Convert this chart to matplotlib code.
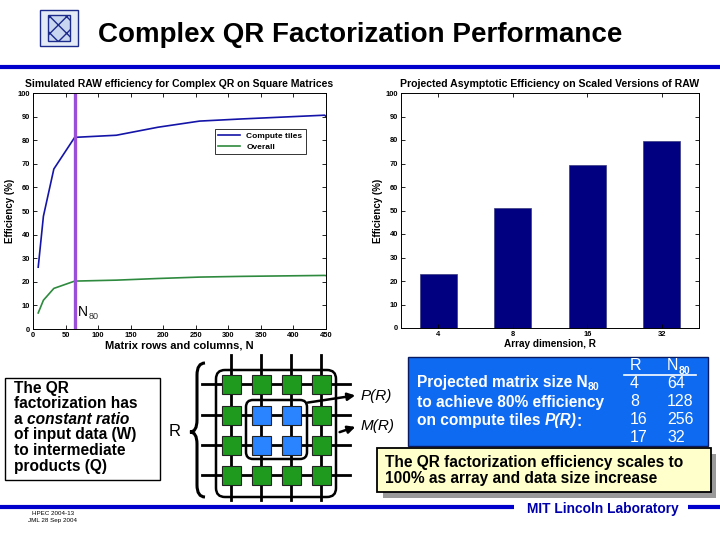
import matplotlib
matplotlib.use("Agg")
import matplotlib.pyplot as plt
from matplotlib.patches import Rectangle, FancyBboxPatch, PathPatch
from matplotlib.path import Path

plt.rcParams['font.family'] = ['Liberation Sans', 'DejaVu Sans']

# simulated efficiency vs matrix size
matrix_n = [8, 16, 32, 64, 128, 192, 256, 320, 384, 448, 450]
compute_tiles = [26.2, 47.8, 67.8, 81.2, 82.1, 85.5, 88.1, 89.0, 89.8, 90.6, 90.0]
overall = [6.8, 12.2, 17.2, 20.3, 20.7, 21.4, 22.0, 22.3, 22.5, 22.7, 22.6]
n80_line = 65

# projected efficiency vs array dimension
array_dims = ['4', '8', '16', '32']
proj_eff = [23.0, 51.2, 69.4, 79.6]

# N80 table
table_r = ['4', '8', '16', '17']
table_n80 = ['64', '128', '256', '32']

fig = plt.figure(figsize=(7.2, 5.4), dpi=100)
renderer = fig.canvas.get_renderer()

# overlay in pixel coordinates for slide decorations
ov = fig.add_axes([0, 0, 1, 1])
ov.set_xlim(0, 720)
ov.set_ylim(540, 0)
ov.axis('off')


def run_text(x, y, parts, **kw):
    # draw text pieces one after another on the same line
    for s, st in parts:
        t = ov.text(x, y, s, style=st, va='center', ha='left', **kw)
        x += t.get_window_extent(renderer).width
    return x


# header
ov.add_patch(Rectangle((40, 10), 38, 36, fc='#e4ebf7', ec='#1c2a8c', lw=1))
ov.add_patch(Rectangle((48, 15), 22, 26, fc='#c9d6f0', ec='#1c2a8c', lw=1, hatch='xx'))
ov.text(98, 35, 'Complex QR Factorization Performance', fontsize=20, fontweight='bold',
        va='center', ha='left')
ov.plot([0, 720], [67, 67], color='#0000cc', lw=3, solid_capstyle='butt')

# footer
ov.plot([0, 514], [507, 507], color='#0000cc', lw=3, solid_capstyle='butt')
ov.plot([688, 720], [507, 507], color='#0000cc', lw=3, solid_capstyle='butt')
ov.text(603, 509, 'MIT Lincoln Laboratory', fontsize=9.9, fontweight='bold', color='#0000aa',
        ha='center', va='center')
ov.text(53, 517, 'HPEC 2004-13\nJML 28 Sep 2004', fontsize=4.5, va='center', ha='center',
        linespacing=1.5)

# left text box
ov.add_patch(Rectangle((5, 378), 155, 102, fc='white', ec='black', lw=1))
box_font = dict(fontsize=11.2, fontweight='bold')
lines = [[('The QR', 'normal')], [('factorization has', 'normal')],
         [('a ', 'normal'), ('constant ratio', 'italic')],
         [('of input data (W)', 'normal')], [('to intermediate', 'normal')],
         [('products (Q)', 'normal')]]
for i, parts in enumerate(lines):
    run_text(14, 388 + i * 15.6, parts, **box_font)

# brace and R
brace = Path([(205, 363), (197, 363), (197, 375), (197, 420), (197, 432), (190, 432),
              (197, 432), (197, 444), (197, 485), (197, 497), (205, 497)],
             [Path.MOVETO, Path.CURVE3, Path.CURVE3, Path.LINETO, Path.CURVE3, Path.CURVE3,
              Path.CURVE3, Path.CURVE3, Path.LINETO, Path.CURVE3, Path.CURVE3])
ov.add_patch(PathPatch(brace, fc='none', ec='black', lw=2.2))
ov.text(175, 432, 'R', fontsize=12, ha='center', va='center')

# tile grid
cols = [231, 261, 291, 321]
rows = [384, 415, 445, 475]
for y in rows:
    ov.plot([202, 350], [y, y], color='black', lw=2, zorder=2)
for x in cols:
    ov.plot([x, x], [355, 500], color='black', lw=2, zorder=2)
ov.add_patch(FancyBboxPatch((216, 370), 120, 127, boxstyle='round,pad=0,rounding_size=9',
                            fc='none', ec='black', lw=1.8, zorder=3))
ov.add_patch(FancyBboxPatch((246, 400), 61, 59, boxstyle='round,pad=0,rounding_size=7',
                            fc='none', ec='black', lw=1.8, zorder=3))
for i, y in enumerate(rows):
    for j, x in enumerate(cols):
        inner = i in (1, 2) and j in (1, 2)
        ov.add_patch(Rectangle((x - 9.5, y - 9.5), 19, 19, fc='#2a83ff' if inner else '#1f9a1f',
                               ec='#222222', lw=0.8, zorder=4))
ov.annotate('', xy=(358, 395), xytext=(305, 403),
            arrowprops=dict(arrowstyle='-|>', lw=1.8, color='black', mutation_scale=11))
ov.annotate('', xy=(358, 426), xytext=(337, 433),
            arrowprops=dict(arrowstyle='-|>', lw=1.8, color='black', mutation_scale=11))
ov.text(361, 396, 'P(R)', fontsize=11, style='italic', va='center')
ov.text(361, 426, 'M(R)', fontsize=11, style='italic', va='center')

# blue info box
ov.add_patch(Rectangle((408, 357), 300, 89, fc='#0f6af2', ec='#0a1a60', lw=1))
blue_font = dict(fontsize=11.2, fontweight='bold', color='white')
xn = run_text(417, 383, [('Projected matrix size N', 'normal')], **blue_font)
ov.text(xn, 387, '80', fontsize=7.5, fontweight='bold', color='white', va='center')
run_text(417, 402, [('to achieve 80% efficiency', 'normal')], **blue_font)
run_text(417, 421, [('on compute tiles ', 'normal'), ('P(R)', 'italic'), (':', 'normal')],
         **blue_font)
ov.text(630, 366, 'R', fontsize=11.5, color='white', ha='left', va='center')
xh = run_text(667, 366, [('N', 'normal')], fontsize=11.5, color='white')
ov.text(xh, 371, '80', fontsize=7.5, fontweight='bold', color='white', ha='left', va='center')
ov.plot([624, 696], [375, 375], color='white', lw=1.2)
for k in range(len(table_r)):
    y = 384 + k * 17.7
    ov.text(630, y, table_r[k], fontsize=11.5, color='white', ha='left', va='center')
    ov.text(667, y, table_n80[k], fontsize=11.5, color='white', ha='left', va='center')

# yellow conclusion box
ov.add_patch(Rectangle((383, 454), 333, 44, fc='#9a9a9a', ec='none'))
ov.add_patch(Rectangle((377, 448), 334, 44, fc='#ffffcc', ec='black', lw=1.3))
ov.text(385, 462, 'The QR factorization efficiency scales to', fontsize=11.2,
        fontweight='bold', va='center')
ov.text(385, 479, '100% as array and data size increase', fontsize=11.2,
        fontweight='bold', va='center')

# left chart
ax1 = fig.add_axes([33 / 720, 1 - 329 / 540, 293 / 720, 236 / 540])
ax1.plot(matrix_n, compute_tiles, color='#1414a8', lw=1.2, label='Compute tiles')
ax1.plot(matrix_n, overall, color='#2e8a3e', lw=1.2, label='Overall')
ax1.axvline(n80_line, color='#9a4fd8', lw=2.4)
ax1.text(69, 7, 'N', fontsize=10, va='center')
ax1.annotate('80', xy=(69, 7), xytext=(7.6, -3), textcoords='offset points',
             fontsize=6.5, va='center', color='#333333')
ax1.set_xlim(0, 450)
ax1.set_ylim(0, 100)
ax1.set_xticks(range(0, 451, 50))
ax1.set_yticks(range(0, 101, 10))
ax1.set_title('Simulated RAW efficiency for Complex QR on Square Matrices',
              fontsize=7.5, fontweight='bold', pad=4)
ax1.set_xlabel('Matrix rows and columns, N', fontsize=8, fontweight='bold', labelpad=1)
ax1.set_ylabel('Efficiency (%)', fontsize=7, fontweight='bold', labelpad=2)
leg = ax1.legend(loc='upper right', bbox_to_anchor=(0.945, 0.865), fontsize=6,
                 frameon=True, fancybox=False, edgecolor='black', borderpad=0.4,
                 handlelength=2.6, labelspacing=0.3)
leg.get_frame().set_linewidth(0.7)
for t in leg.get_texts():
    t.set_fontweight('bold')

# right chart
ax2 = fig.add_axes([401 / 720, 1 - 328 / 540, 298 / 720, 235 / 540])
ax2.bar(range(1, len(proj_eff) + 1), proj_eff, width=0.5, color='#000080', edgecolor='#3a3a80', lw=0.5)
ax2.set_xlim(0.5, 4.5)
ax2.set_ylim(0, 100)
ax2.set_xticks(range(1, len(array_dims) + 1))
ax2.set_xticklabels(array_dims)
ax2.set_yticks(range(0, 101, 10))
ax2.set_title('Projected Asymptotic Efficiency on Scaled Versions of RAW',
              fontsize=7.6, fontweight='bold', pad=4)
ax2.set_xlabel('Array dimension, R', fontsize=7.2, fontweight='bold', labelpad=1)
ax2.set_ylabel('Efficiency (%)', fontsize=7, fontweight='bold', labelpad=2)

for ax in (ax1, ax2):
    ax.tick_params(direction='in', top=True, right=True, length=3, width=0.6,
                   labelsize=5.4, pad=2)
    for lab in ax.get_xticklabels() + ax.get_yticklabels():
        lab.set_fontweight('bold')
    for s in ax.spines.values():
        s.set_linewidth(0.7)

fig.savefig('out.png', dpi=100)
